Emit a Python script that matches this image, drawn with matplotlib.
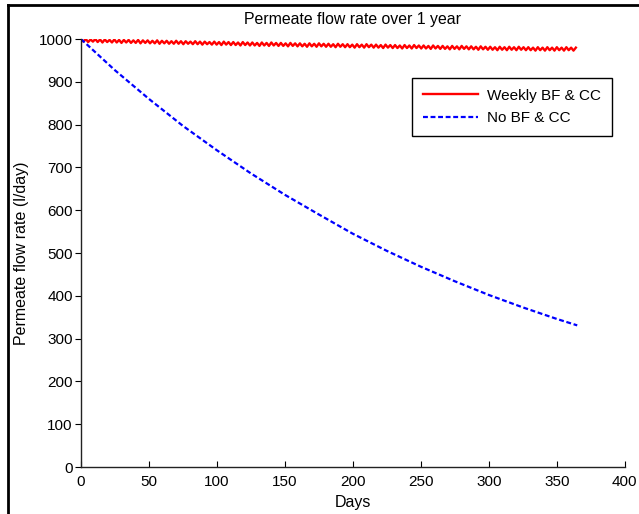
import matplotlib
matplotlib.use("Agg")
import matplotlib.pyplot as plt
from matplotlib.lines import Line2D

plt.rcParams['font.family'] = ['Liberation Sans', 'DejaVu Sans']

# Weekly BF & CC: zigzag, highs every 3.5 days, lows in between
high_days = [3.5 * i for i in range(105)]
high_vals = [1000, 1000, 999, 1000, 999, 999, 998, 999, 998, 998,
             998, 997, 998, 997, 997, 996, 997, 996, 996, 995,
             996, 995, 995, 994, 995, 994, 994, 993, 994, 993,
             994, 993, 993, 992, 993, 992, 992, 991, 992, 991,
             992, 991, 991, 990, 991, 990, 990, 989, 990, 989,
             990, 989, 989, 988, 989, 988, 988, 987, 988, 987,
             988, 987, 987, 986, 987, 986, 986, 985, 986, 985,
             986, 985, 985, 984, 985, 984, 984, 983, 984, 983,
             984, 983, 983, 982, 983, 982, 982, 981, 982, 981,
             982, 981, 982, 981, 981, 980, 981, 980, 981, 980,
             981, 980, 981, 980, 980]
low_days = [3.5 * i + 1.75 for i in range(104)]
low_vals = [994, 993, 994, 993, 992, 993, 992, 992, 991, 992,
            991, 991, 990, 991, 990, 990, 989, 990, 989, 989,
            989, 988, 989, 988, 988, 987, 988, 987, 987, 986,
            987, 986, 986, 985, 986, 985, 985, 984, 985, 984,
            985, 984, 984, 983, 984, 983, 983, 982, 983, 982,
            983, 982, 982, 981, 982, 981, 981, 980, 981, 980,
            981, 980, 980, 979, 980, 979, 979, 978, 979, 978,
            979, 978, 978, 977, 978, 977, 977, 976, 977, 976,
            977, 976, 976, 975, 976, 975, 975, 974, 975, 974,
            975, 974, 975, 974, 974, 973, 974, 973, 974, 973,
            974, 973, 974, 973]

# No BF & CC
no_bf_days = [0, 25, 50, 75, 100, 125, 150, 175, 200, 225, 250, 275, 300, 325, 350, 365]
no_bf_vals = [1000, 927, 860, 797, 740, 686, 636, 590, 545, 505, 468, 434, 402, 373, 346, 331]

# merge highs and lows into one zigzag
red_days, red_vals = [], []
for i in range(len(high_days)):
    red_days.append(high_days[i])
    red_vals.append(high_vals[i])
    if i < len(low_days):
        red_days.append(low_days[i])
        red_vals.append(low_vals[i])

fig = plt.figure(figsize=(6.39, 5.14), dpi=100)
ax = fig.add_axes([0.1268, 0.0914, 0.851, 0.8326])

ax.plot(red_days, red_vals, color='red', lw=1.7, label='Weekly BF & CC')
ax.plot(no_bf_days, no_bf_vals, color='blue', lw=1.6, dashes=(2.2, 1.2), label='No BF & CC')

ax.set_xlim(0, 400)
ax.set_ylim(0, 1000)
ax.set_xticks(range(0, 401, 50))
ax.set_yticks(range(0, 1001, 100))
ax.spines['top'].set_visible(False)
ax.spines['right'].set_visible(False)
for s in ['left', 'bottom']:
    ax.spines[s].set_linewidth(1.0)
    ax.spines[s].set_color('#222222')
ax.tick_params(axis='x', direction='in', length=4, labelsize=11, pad=6)
ax.tick_params(axis='y', direction='out', length=4, labelsize=11, pad=2)

ax.set_title('Permeate flow rate over 1 year', fontsize=11.4, pad=11)
ax.set_xlabel('Days', fontsize=11.5, labelpad=4)
ax.set_ylabel('Permeate flow rate (l/day)', fontsize=11.5, labelpad=7)

leg = ax.legend(loc='upper right', bbox_to_anchor=(0.976, 0.909), fontsize=11,
                fancybox=False, edgecolor='black', framealpha=1, borderaxespad=0,
                handlelength=3.6, handletextpad=0.6, borderpad=0.7, labelspacing=0.55)
leg.get_frame().set_linewidth(1.0)

# outer frame lines (top and left)
fig.add_artist(Line2D([0.0125, 1.0], [0.990, 0.990], color='black', lw=2, transform=fig.transFigure))
fig.add_artist(Line2D([0.0125, 0.0125], [0.0, 0.990], color='black', lw=2, transform=fig.transFigure))

fig.savefig('out.png', dpi=100)
